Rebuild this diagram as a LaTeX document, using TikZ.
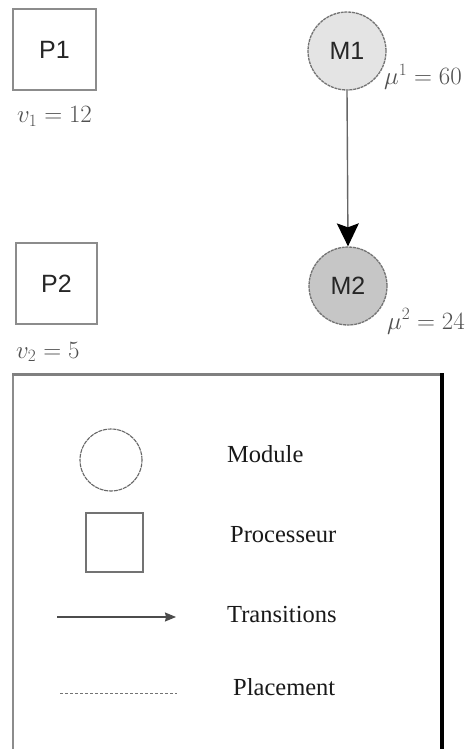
\documentclass[tikz,border=0pt]{standalone}
\usepackage[no-math]{fontspec}
\setmainfont{Liberation Serif}
\newfontfamily\sansf{Liberation Sans}
\usetikzlibrary{arrows.meta}
\definecolor{edgegrey}{HTML}{8C8C8C}
\definecolor{labgrey}{HTML}{505050}
\definecolor{mfillA}{HTML}{E4E4E4}
\definecolor{mfillB}{HTML}{C6C6C6}
\tikzset{
  procbox/.style={draw=edgegrey, line width=1.6pt, rectangle, inner sep=0pt,
    font=\sansf\fontsize{25}{28}\selectfont, text=black!85},
  modcircle/.style={draw=black!55, dash pattern=on 3pt off 0.8pt, line width=1.3pt, circle, inner sep=0pt,
    minimum size=78pt, font=\sansf\fontsize{25}{28}\selectfont, text=black!85},
  mathlab/.style={anchor=base west, inner sep=0pt, text=labgrey, font=\fontsize{23}{27}\selectfont},
  legtext/.style={anchor=base west, inner sep=0pt, text=black!90, font=\fontsize{24.5}{28}\selectfont},
  transarrow/.style={draw=black!60, line width=1.4pt},
}
\begin{document}
\begin{tikzpicture}[x=1pt,y=-1pt]
\useasboundingbox[fill=white] (0,0) rectangle (468,749);
% processors
\node[procbox, minimum width=83pt, minimum height=81pt] (P1) at (54.5,49.5) {P1};
\node[procbox, minimum width=81pt, minimum height=81pt] (P2) at (56.5,283.5) {P2};
\node[mathlab] (v1) at (17,123) {$v_1 = 12$};
\node[mathlab] (v2) at (16,358) {$v_2 = 5$};
% modules
\node[modcircle, fill=mfillA] (M1) at (347,51) {M1};
\node[modcircle, fill=mfillB] (M2) at (348,286) {M2};
\node[mathlab] (mu1) at (384,85) {$\mu^1 = 60$};
\node[mathlab] (mu2) at (387,329) {$\mu^2 = 24$};
\draw[transarrow, -{Stealth[length=23pt,width=22pt,inset=4pt,fill=black,color=black]}] (M1.south) -- (M2.north);
% legend frame
\draw[draw=black!45, line width=1.5pt] (13,752) -- (13,374.5);
\draw[draw=black!50, line width=3pt] (12.3,374.5) -- (442,374.5);
\draw[draw=black, line width=4pt] (442,373) -- (442,752);
% legend items
\node[draw=black!60, dash pattern=on 4pt off 0.8pt, line width=1.1pt, circle, minimum size=62pt, inner sep=0pt] (lc) at (111,460) {};
\node[draw=black!55, line width=1.3pt, rectangle, minimum width=57pt, minimum height=59pt, inner sep=0pt] (ls) at (114.5,542.5) {};
\coordinate (la1) at (57,617);
\coordinate (la2) at (176,617);
\draw[draw=black!70, line width=1.1pt, -{Stealth[length=11pt,width=9pt,inset=1pt]}] (la1) -- (la2);
\coordinate (ld1) at (60,693);
\coordinate (ld2) at (177,693);
\draw[draw=black!55, line width=0.9pt, dash pattern=on 3pt off 2pt] (ld1) -- (ld2);
\node[legtext] (tmod) at (227,462) {Module};
\node[legtext] (tproc) at (230,542) {Processeur};
\node[legtext] (ttrans) at (227,622) {Transitions};
\node[legtext] (tplac) at (233,695) {Placement};
\end{tikzpicture}
\end{document}
